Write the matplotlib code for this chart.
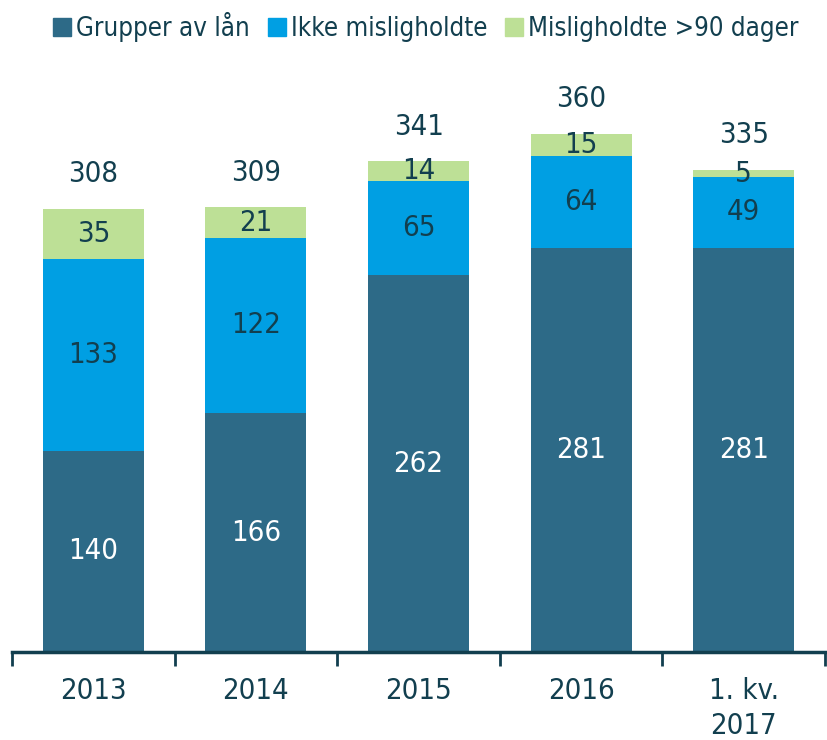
import matplotlib.pyplot as plt
import numpy as np
from matplotlib.patches import Patch

plt.rcParams['font.family'] = ['DejaVu Sans']
plt.rcParams['font.stretch'] = 'condensed'

categories = ['2013', '2014', '2015', '2016', '1. kv.\n2017']
grupper = [140, 166, 262, 281, 281]
ikke_mis = [133, 122, 65, 64, 49]
mis_90 = [35, 21, 14, 15, 5]
totals = [308, 309, 341, 360, 335]

c_dark = '#2D6A87'
c_blue = '#009FE3'
c_green = '#BDE096'
c_text = '#123F4F'

fig = plt.figure(figsize=(8.27, 7.4), dpi=100)
ax = fig.add_axes([12 / 827, 88 / 740, 813 / 827, 600 / 740])

x = np.arange(len(categories))
w = 0.62
ax.bar(x, grupper, w, color=c_dark)
ax.bar(x, ikke_mis, w, bottom=grupper, color=c_blue)
b2 = np.array(grupper) + np.array(ikke_mis)
ax.bar(x, mis_90, w, bottom=b2, color=c_green)

fs = 21
for i in range(len(x)):
    ax.text(x[i], grupper[i] / 2, str(grupper[i]), ha='center', va='center',
            color='white', fontsize=fs)
    ax.text(x[i], grupper[i] + ikke_mis[i] / 2, str(ikke_mis[i]), ha='center', va='center',
            color=c_text, fontsize=fs)
    ax.text(x[i], b2[i] + mis_90[i] / 2, str(mis_90[i]), ha='center', va='center',
            color=c_text, fontsize=fs)
    ax.text(x[i], totals[i] + 24, str(totals[i]), ha='center', va='center',
            color=c_text, fontsize=fs)

ax.set_xlim(-0.5, len(x) - 0.5)
ax.set_ylim(0, 417)
for s in ['top', 'right', 'left']:
    ax.spines[s].set_visible(False)
ax.spines['bottom'].set_color(c_text)
ax.spines['bottom'].set_linewidth(2.5)
ax.set_yticks([])
ax.set_xticks(np.arange(-0.5, len(x), 1.0))
ax.set_xticklabels([])
ax.set_xticks(x, minor=True)
ax.set_xticklabels(categories, minor=True, fontsize=fs, color=c_text, linespacing=1.3)
ax.tick_params(axis='x', which='major', length=10, width=2, color=c_text, direction='out')
ax.tick_params(axis='x', which='minor', length=0, pad=18)

handles = [Patch(color=c_dark, label='Grupper av lån'),
           Patch(color=c_blue, label='Ikke misligholdte'),
           Patch(color=c_green, label='Misligholdte >90 dager')]
fig.legend(handles=handles, loc='upper center', bbox_to_anchor=(0.515, 1.015), ncol=3,
           frameon=False, fontsize=18.5, handlelength=0.7, handleheight=0.7,
           handletextpad=0.2, columnspacing=0.7, labelcolor=c_text)

plt.savefig('out.png', dpi=100)
